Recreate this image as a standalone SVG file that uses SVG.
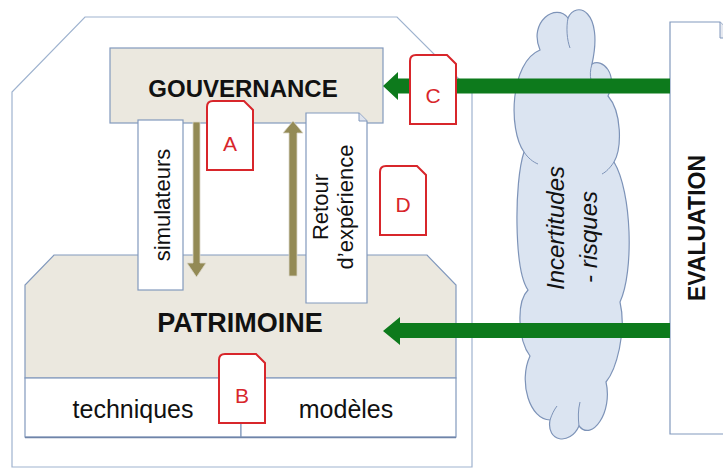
<svg xmlns="http://www.w3.org/2000/svg" width="723" height="468" viewBox="0 0 723 468">
<style>
.frame{fill:#ffffff;stroke:#9fb3cf;stroke-width:1.2}
.beige{fill:#ebe8df;stroke:#8299bd;stroke-width:1.2}
.white{fill:#ffffff;stroke:#8299bd;stroke-width:1.2}
.tag{fill:#ffffff;stroke:#d8262b;stroke-width:2}
.tagt{fill:#d8262b;font-family:"Liberation Sans",Arial,sans-serif;font-size:21px;text-anchor:middle}
.t{font-family:"Liberation Sans",Arial,sans-serif;fill:#111;text-anchor:middle}
.b{font-weight:bold}
.olive{fill:#938a55;stroke:#d9d6c8;stroke-width:0.8}
.green{fill:#0d7a1c}
.cloud{fill:#dbe4f1;stroke:#7d93b8;stroke-width:1.2}
.cl{fill:none;stroke:#7d93b8;stroke-width:1}
</style>
<defs>
<path id="tagshape" d="M6,0 H37 L46,9 V69 H0 V6 Q0,0 6,0 Z"/>
</defs>
<rect width="723" height="468" fill="#ffffff"/>

<g id="frame">
<polygon class="frame" points="85,17 397,17 472,92 472,467 12,467 12,92"/>
</g>

<g id="cloud">
<path class="cloud" d="M540,50 C528,22 556,2 568,18 C576,0 604,10 592,64 C603,58 618,74 608,96 C622,112 622,148 614,162 C632,192 634,272 620,302 C627,332 616,370 606,382 C613,412 592,442 579,426 C570,446 546,442 550,420 C530,420 518,382 530,356 C518,340 516,302 528,290 C514,270 514,182 524,152 C508,130 510,62 540,50 Z"/>
<path class="cl" d="M568,18 C566,28 567,40 570,48"/>
<path class="cl" d="M592,64 C590,70 590,76 591,80"/>
<path class="cl" d="M579,426 C578,418 578,410 580,402"/>
<path class="cl" d="M550,420 C552,414 554,410 557,406"/>
<path class="cl" d="M524,152 C528,158 533,162 538,164"/>
<path class="cl" d="M614,162 C610,168 606,172 602,174"/>
<text class="t" font-style="italic" font-size="24" transform="translate(564,228) rotate(-90)">Incertitudes</text>
<text class="t" font-style="italic" font-size="24" transform="translate(597,237) rotate(-90)">- risques</text>
</g>

<g id="evaluation">
<path class="white" d="M670,22 H720 L736,38 V434 H670 Z"/>
<path fill="#e6e9f0" stroke="#8299bd" stroke-width="1" d="M720,22 L720,38 L736,38"/>
<text class="t b" font-size="23" transform="translate(705,228) rotate(-90)">EVALUATION</text>
</g>

<g id="patrimoine">
<polygon class="beige" points="54,255 427,255 456,285 456,378 25,378 25,285"/>
<rect class="white" x="25" y="378" width="216" height="59"/>
<rect class="white" x="241" y="378" width="215" height="59"/>
<line x1="25" y1="437.5" x2="456" y2="437.5" stroke="#6f84a8" stroke-width="1.5"/>
<text class="t b" font-size="27" x="240" y="332">PATRIMOINE</text>
<text class="t" font-size="25" x="133" y="418">techniques</text>
<text class="t" font-size="25" x="346" y="418">modèles</text>
</g>

<g id="gouvernance">
<rect class="beige" x="110" y="48" width="273" height="75"/>
<text class="t b" font-size="24" x="243" y="97">GOUVERNANCE</text>
</g>

<g id="simulateurs">
<rect class="white" x="138" y="120" width="45" height="170"/>
<text class="t" font-size="22" transform="translate(170,205) rotate(-90)">simulateurs</text>
</g>

<g id="retour">
<path class="white" d="M306,113 H359 L367,121 V303 H306 Z"/>
<path fill="#dfe4ee" stroke="#8299bd" stroke-width="1" d="M359,113 L359,121 L367,121"/>
<text class="t" font-size="22" transform="translate(328,207) rotate(-90)">Retour</text>
<text class="t" font-size="22" transform="translate(353,207) rotate(-90)">d’expérience</text>
</g>

<g id="connectors">
<polygon class="olive" points="193,122 200,122 200,263 206,263 196.5,277 187,263 193,263"/>
<polygon class="olive" points="289,276 297,276 297,133 303,133 293,121 283,133 289,133"/>
<polygon class="green" points="670,78.5 398,78.5 398,72 383,86 398,100 398,93.5 670,93.5"/>
<polygon class="green" points="670,323 400,323 400,317 383,331 400,345 400,338 670,338"/>
</g>

<g id="tagA">
<use href="#tagshape" class="tag" x="207" y="101"/>
<text class="tagt" x="230" y="151">A</text>
</g>
<g id="tagB">
<use href="#tagshape" class="tag" x="219" y="354"/>
<text class="tagt" x="242" y="403">B</text>
</g>
<g id="tagC">
<use href="#tagshape" class="tag" x="410" y="55"/>
<text class="tagt" x="433" y="103">C</text>
</g>
<g id="tagD">
<use href="#tagshape" class="tag" x="380" y="166"/>
<text class="tagt" x="403" y="212">D</text>
</g>
</svg>
